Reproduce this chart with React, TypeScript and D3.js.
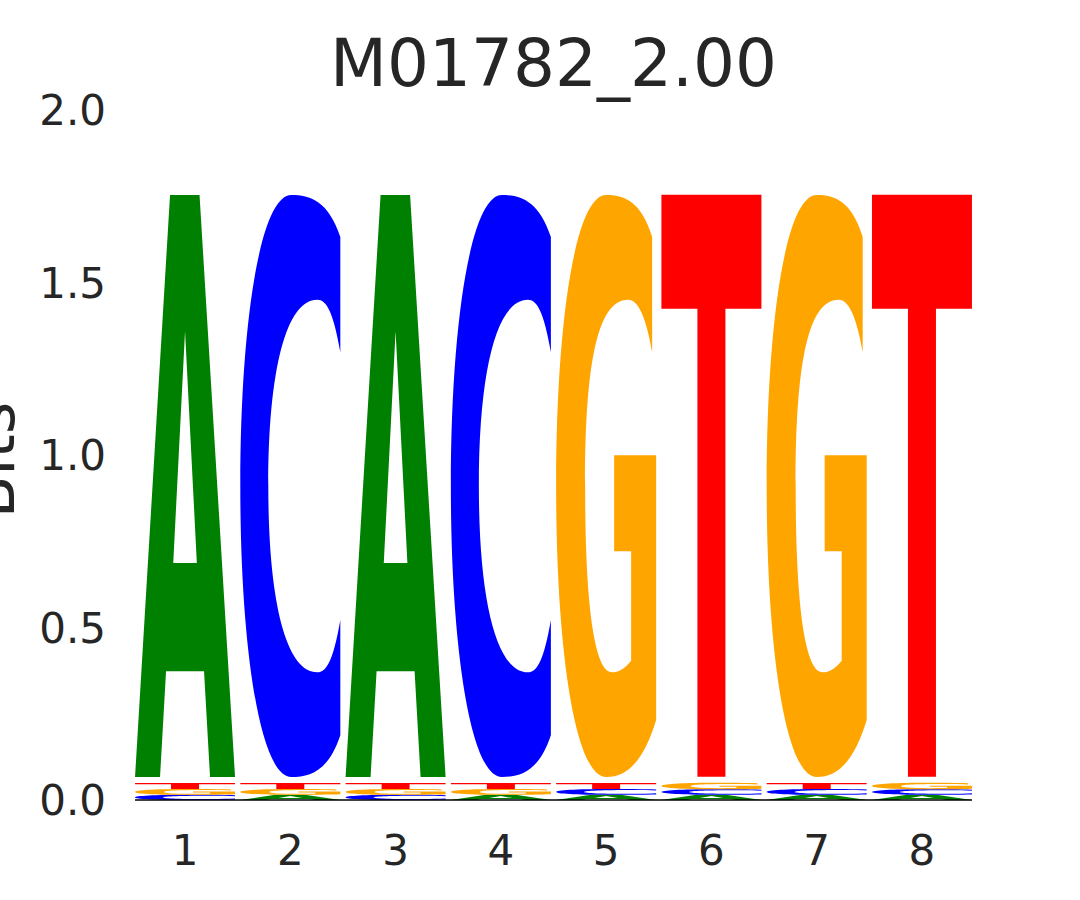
import React from "react";
import * as d3 from "d3";

// ---------- data ----------
const title = "M01782_2.00";
const positions = [1, 2, 3, 4, 5, 6, 7, 8];
const consensus = ["A", "C", "A", "C", "G", "T", "G", "T"];
const consensusBits = [1.687, 1.687, 1.687, 1.687, 1.687, 1.687, 1.687, 1.687];
// minor letters, stacked bottom -> top
const minorLetters = [
  ["C", "G", "T"],
  ["A", "G", "T"],
  ["C", "G", "T"],
  ["A", "G", "T"],
  ["A", "C", "T"],
  ["A", "C", "G"],
  ["A", "C", "T"],
  ["A", "C", "G"],
];
const minorBits = [
  [0.015, 0.017, 0.017],
  [0.015, 0.017, 0.017],
  [0.015, 0.017, 0.017],
  [0.015, 0.017, 0.017],
  [0.015, 0.017, 0.017],
  [0.015, 0.016, 0.019],
  [0.015, 0.017, 0.017],
  [0.015, 0.016, 0.019],
];
const yTicks = [0, 0.5, 1.0, 1.5, 2.0];
const yLabel = "Bits";

// ---------- style ----------
const colors: Record<string, string> = {
  A: "#008000",
  C: "#0000ff",
  G: "#ffa500",
  T: "#ff0000",
};
const FONT = "'DejaVu Sans', sans-serif";
const TEXT = "#262626";
const vsep = 0.0175; // gap below consensus letter (bits)
const colWidth = 0.95;

// glyph outlines in unit box (x right, y up)
type Cmd = [string, ...number[]];
const glyphs: Record<string, Cmd[]> = {
  A: [
    ["M", 0, 0], ["L", 0.35, 1], ["L", 0.645, 1], ["L", 1, 0], ["L", 0.75, 0],
    ["L", 0.69, 0.182], ["L", 0.31, 0.182], ["L", 0.25, 0], ["Z"],
    ["M", 0.5, 0.766], ["L", 0.382, 0.368], ["L", 0.618, 0.368], ["Z"],
  ],
  C: [
    ["M", 1, 0.928],
    ["C", 0.88, 0.99, 0.7, 1, 0.51, 1],
    ["C", 0.2, 1, 0, 0.78, 0, 0.5],
    ["C", 0, 0.22, 0.2, 0, 0.51, 0],
    ["C", 0.7, 0, 0.88, 0.01, 1, 0.072],
    ["L", 1, 0.27],
    ["C", 0.93, 0.2, 0.86, 0.18, 0.77, 0.18],
    ["C", 0.46, 0.18, 0.28, 0.3, 0.28, 0.5],
    ["C", 0.28, 0.7, 0.46, 0.82, 0.77, 0.82],
    ["C", 0.86, 0.82, 0.93, 0.8, 1, 0.73],
    ["Z"],
  ],
  G: [
    ["M", 0.96, 0.928],
    ["C", 0.85, 0.99, 0.68, 1, 0.5, 1],
    ["C", 0.19, 1, 0, 0.78, 0, 0.5],
    ["C", 0, 0.22, 0.19, 0, 0.5, 0],
    ["C", 0.72, 0, 0.88, 0.03, 1, 0.098],
    ["L", 1, 0.553],
    ["L", 0.58, 0.553],
    ["L", 0.58, 0.388],
    ["L", 0.75, 0.388],
    ["L", 0.75, 0.2],
    ["C", 0.68, 0.185, 0.62, 0.18, 0.56, 0.18],
    ["C", 0.38, 0.18, 0.29, 0.3, 0.29, 0.5],
    ["C", 0.29, 0.7, 0.4, 0.82, 0.72, 0.82],
    ["C", 0.82, 0.82, 0.9, 0.79, 0.96, 0.73],
    ["Z"],
  ],
  T: [
    ["M", 0, 1], ["L", 1, 1], ["L", 1, 0.804], ["L", 0.64, 0.804],
    ["L", 0.64, 0], ["L", 0.36, 0], ["L", 0.36, 0.804], ["L", 0, 0.804], ["Z"],
  ],
};

function glyphPath(letter: string, x0: number, x1: number, yb: number, yt: number) {
  const w = x1 - x0;
  const h = yb - yt;
  const p = d3.path();
  for (const c of glyphs[letter]) {
    const [op, ...n] = c;
    const X = (i: number) => x0 + n[i] * w;
    const Y = (i: number) => yb - n[i + 1] * h;
    if (op === "M") p.moveTo(X(0), Y(0));
    else if (op === "L") p.lineTo(X(0), Y(0));
    else if (op === "C") p.bezierCurveTo(X(0), Y(0), X(2), Y(2), X(4), Y(4));
    else p.closePath();
  }
  return p.toString();
}

export default function App() {
  const x = d3.scaleLinear().domain([0.5, 8.5]).range([132.4, 974.6]);
  const y = d3.scaleLinear().domain([0, 2]).range([800, 110]);

  const marks: { key: string; d: string; fill: string }[] = [];
  positions.forEach((pos, i) => {
    const x0 = x(pos - colWidth / 2);
    const x1 = x(pos + colWidth / 2);
    let acc = 0;
    minorLetters[i].forEach((L, j) => {
      const h = minorBits[i][j];
      marks.push({ key: `${i}-${j}`, d: glyphPath(L, x0, x1, y(acc), y(acc + h)), fill: colors[L] });
      acc += h;
    });
    acc += vsep;
    const L = consensus[i];
    marks.push({ key: `${i}-c`, d: glyphPath(L, x0, x1, y(acc), y(acc + consensusBits[i])), fill: colors[L] });
  });

  const xl = x(1 - colWidth / 2);
  const xr = x(8 + colWidth / 2);

  return (
    <svg width={1080} height={900} style={{ position: "absolute", left: 0, top: 0, background: "#fff" }}>
      <rect x={0} y={0} width={1080} height={900} fill="#fff" />
      <text x={(x(0.5) + x(8.5)) / 2} y={86} textAnchor="middle" fontFamily={FONT} fontSize={66} fill={TEXT}>
        {title}
      </text>
      {marks.map((m) => (
        <path key={m.key} d={m.d} fill={m.fill} fillRule="evenodd" />
      ))}
      <line x1={xl} x2={xr} y1={y(0)} y2={y(0)} stroke="#000" strokeWidth={1.6} />
      {yTicks.map((t) => (
        <text key={t} x={106} y={y(t)} dy="0.36em" textAnchor="end" fontFamily={FONT} fontSize={42} fill={TEXT}>
          {d3.format(".1f")(t)}
        </text>
      ))}
      {positions.map((p) => (
        <text key={p} x={x(p)} y={865} textAnchor="middle" fontFamily={FONT} fontSize={42} fill={TEXT}>
          {p}
        </text>
      ))}
      <text
        transform={`translate(14, ${(y(0) + y(2)) / 2 + 5}) rotate(-90)`}
        textAnchor="middle"
        fontFamily={FONT}
        fontSize={62}
        fill={TEXT}
      >
        {yLabel}
      </text>
    </svg>
  );
}
